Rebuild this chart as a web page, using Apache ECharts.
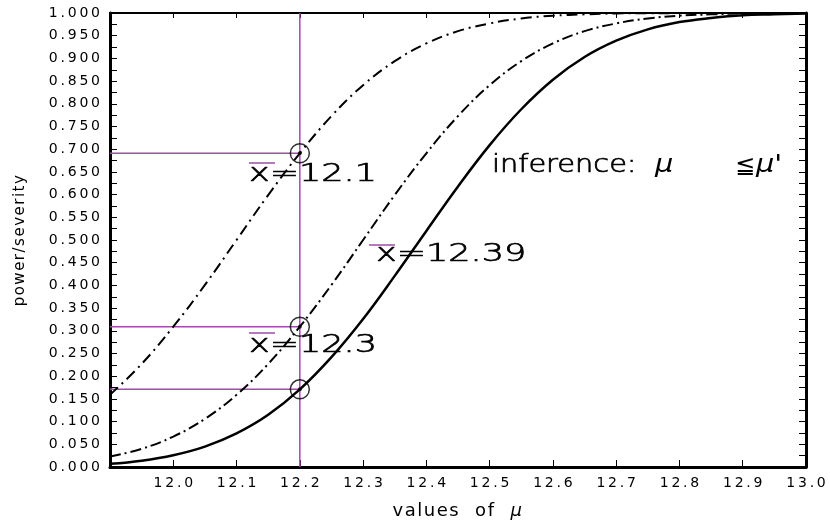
<!DOCTYPE html>
<html>
<head>
<meta charset="utf-8">
<script src="https://cdn.jsdelivr.net/npm/echarts@6.0.0/dist/echarts.min.js"></script>
<style>
  html, body { margin: 0; padding: 0; background: #fff; }
  #chart { width: 830px; height: 525px; }
</style>
</head>
<body>
<div id="chart"></div>
<script>
// values of mu along the x axis
const muValues = [11.9, 11.95, 12.0, 12.05, 12.1, 12.15, 12.2, 12.25, 12.3, 12.35, 12.4, 12.45,
  12.5, 12.55, 12.6, 12.65, 12.7, 12.75, 12.8, 12.85, 12.9, 12.95, 13.0];
// severity curves, one for each observed mean
const sevXbar121 = [0.159, 0.227, 0.309, 0.401, 0.500, 0.599, 0.691, 0.773, 0.841, 0.894, 0.933, 0.960,
  0.977, 0.988, 0.994, 0.997, 0.999, 0.9994, 0.9998, 0.9999, 1.0, 1.0, 1.0];
const sevXbar123 = [0.023, 0.040, 0.067, 0.106, 0.159, 0.227, 0.309, 0.401, 0.500, 0.599, 0.691, 0.773,
  0.841, 0.894, 0.933, 0.960, 0.977, 0.988, 0.994, 0.997, 0.999, 0.9994, 0.9998];
const sevXbar1239 = [0.007, 0.014, 0.026, 0.045, 0.074, 0.115, 0.171, 0.242, 0.326, 0.421, 0.520, 0.618,
  0.709, 0.788, 0.853, 0.903, 0.939, 0.964, 0.980, 0.989, 0.995, 0.997, 0.999];
// the readings at mu = 12.2
const checkMu = 12.2;
const checkSev = [0.691, 0.309, 0.171];

const purple = '#a04ca6';
const FONT = 'DejaVu Sans';

const measure = document.createElement('canvas').getContext('2d');
// text with extra letter spacing, built as rich text (one box per char)
function spaced(str, size, gap, opts) {
  opts = opts || {};
  const rich = {};
  let text = '';
  Array.from(str).forEach((ch, i) => {
    const italic = opts.italic && opts.italic.includes(ch);
    measure.font = (italic ? 'italic ' : '') + size + 'px "' + FONT + '"';
    let w = measure.measureText(ch).width + gap;
    if (ch === ' ' && opts.space) w = opts.space;
    rich['c' + i] = {
      fontFamily: FONT, fontSize: size, fontStyle: italic ? 'italic' : 'normal',
      color: '#000', width: w, align: 'left'
    };
    text += '{c' + i + '|' + ch + '}';
  });
  return { text, rich };
}

// tick labels: thin spaces between the characters
const thin = s => s.split('').join('\u2009');

const yName = spaced('power/severity', 15, 1.5);
const xName = spaced('values of μ', 18, 1.5, { italic: ['μ'], space: 15 });

// wide plotter-like lettering: light text stretched sideways
function wideText(str, x, y, size, sx, plain) {
  return {
    type: 'text', x: x, y: y, scaleX: sx, silent: true, z: 100,
    style: {
      text: str, fill: '#000', stroke: '#000', lineWidth: plain ? 0 : 0.7,
      fontFamily: FONT, fontSize: size, fontWeight: plain ? 'normal' : 200,
      fontStyle: plain === 'italic' ? 'italic' : 'normal', align: 'left', verticalAlign: 'middle'
    }
  };
}
function overline(x1, x2, y) {
  return {
    type: 'line', silent: true, z: 100,
    shape: { x1: x1, y1: y, x2: x2, y2: y },
    style: { stroke: purple, lineWidth: 1.5 }
  };
}

const chart = echarts.init(document.getElementById('chart'));

const option = {
  animation: false,
  backgroundColor: '#fff',
  grid: { left: 110, right: 24, top: 13, bottom: 58, outerBoundsMode: 'none' },
  xAxis: [
    {
      type: 'value', min: 11.9, max: 13.0, interval: 0.1,
      name: xName.text, nameLocation: 'middle', nameGap: 35,
      nameTextStyle: { rich: xName.rich },
      axisLine: { onZero: false, lineStyle: { color: '#000', width: 3 } },
      axisTick: { inside: true, length: 7, lineStyle: { color: '#000', width: 1 } },
      axisLabel: {
        margin: 9, color: '#000', fontFamily: FONT, fontSize: 14,
        formatter: v => (v < 11.95 ? '' : thin(v.toFixed(1)))
      },
      splitLine: { show: false }
    },
    {
      type: 'value', position: 'top', min: 11.9, max: 13.0, interval: 0.1,
      axisLine: { onZero: false, lineStyle: { color: '#000', width: 2 } },
      axisTick: { inside: true, length: 5, lineStyle: { color: '#000', width: 1 } },
      axisLabel: { show: false },
      splitLine: { show: false }
    }
  ],
  yAxis: [
    {
      type: 'value', min: 0, max: 1, interval: 0.05,
      name: yName.text, nameLocation: 'middle', nameGap: 82,
      nameTextStyle: { rich: yName.rich },
      axisLine: { onZero: false, lineStyle: { color: '#000', width: 3 } },
      axisTick: { inside: true, length: 7, lineStyle: { color: '#000', width: 1 } },
      minorTick: { show: true, splitNumber: 2, length: 7, lineStyle: { color: '#000', width: 1 } },
      axisLabel: {
        margin: 10, color: '#000', fontFamily: FONT, fontSize: 14,
        formatter: v => thin(v.toFixed(3))
      },
      splitLine: { show: false }
    },
    {
      type: 'value', position: 'right', min: 0, max: 1, interval: 0.05,
      axisLine: { onZero: false, lineStyle: { color: '#000', width: 3 } },
      axisTick: { inside: true, length: 7, lineStyle: { color: '#000', width: 1 } },
      minorTick: { show: true, splitNumber: 2, length: 7, lineStyle: { color: '#000', width: 1 } },
      axisLabel: { show: false },
      splitLine: { show: false }
    }
  ],
  series: [
    {
      type: 'line', data: [[checkMu, 0], [checkMu, 1]], symbol: 'none',
      lineStyle: { color: purple, width: 1.5 }
    },
    ...checkSev.map(v => ({
      type: 'line', data: [[11.9, v], [checkMu, v]], symbol: 'none',
      lineStyle: { color: purple, width: 1.5 }
    })),
    {
      type: 'line', data: muValues.map((m, i) => [m, sevXbar121[i]]), symbol: 'none',
      smooth: 0.4,
      lineStyle: { color: '#000', width: 2, type: [11, 5, 2, 5] }
    },
    {
      type: 'line', data: muValues.map((m, i) => [m, sevXbar123[i]]), symbol: 'none',
      smooth: 0.4,
      lineStyle: { color: '#000', width: 2, type: [11, 4, 2, 4] }
    },
    {
      type: 'line', data: muValues.map((m, i) => [m, sevXbar1239[i]]), symbol: 'none',
      smooth: 0.4,
      lineStyle: { color: '#000', width: 2.5 }
    },
    {
      type: 'scatter', data: checkSev.map(v => [checkMu, v]), symbol: 'circle', symbolSize: 19,
      itemStyle: { color: 'rgba(0,0,0,0)', borderColor: '#000', borderWidth: 1.5 }, z: 5
    },
    {
      type: 'scatter', data: checkSev.map(v => [checkMu, v]), symbol: 'circle', symbolSize: 4,
      itemStyle: { color: '#000' }, z: 6
    }
  ],
  graphic: [
    wideText('x=12.1', 249, 174, 25, 1.4),
    overline(249, 275, 163),
    wideText('x=12.3', 249, 345, 25, 1.4),
    overline(249, 275, 333),
    wideText('x=12.39', 376, 254, 25, 1.4),
    overline(369, 395, 245),
    wideText('inference:', 492, 166, 24, 1.2),
    wideText('μ', 655, 166, 24, 1.2, 'italic'),
    wideText('≦', 735, 167, 24, 1.0, 'plain'),
    wideText("μ'", 756, 166, 24, 1.2, 'italic')
  ]
};

chart.setOption(option);
</script>
</body>
</html>
